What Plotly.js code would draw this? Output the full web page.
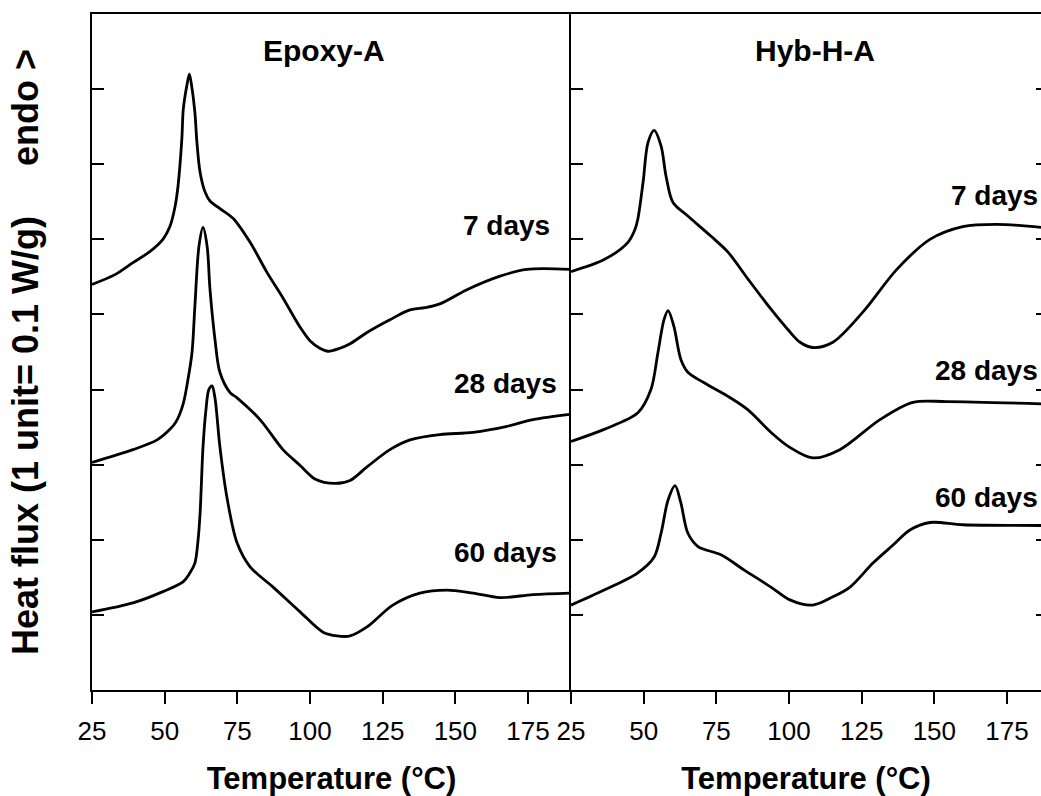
<!DOCTYPE html>
<html>
<head>
<meta charset="utf-8">
<script src="https://cdn.plot.ly/plotly-3.0.1.min.js"></script>
<style>html,body{margin:0;padding:0;background:#fff;}#chart{width:1041px;height:796px;}</style>
</head>
<body>
<div id="chart"></div>
<script>
// ---- Data ----
var panelTitles = ["Epoxy-A", "Hyb-H-A"];
var seriesNames = ["7 days", "28 days", "60 days"];
var xTickVals = [25, 50, 75, 100, 125, 150, 175];
var xTickText = ["25", "50", "75", "100", "125", "150", "175"];
var yTickVals = [1, 2, 3, 4, 5, 6, 7, 8];

// Epoxy-A, 7 days
var tEpoxy7 = [25.0, 32.9, 39.1, 45.0, 49.4, 51.8, 53.6, 54.6, 55.9, 56.4, 57.6, 58.5, 59.3, 60.4, 61.1, 62.2, 63.9, 65.6, 69.0, 73.5, 79.4, 85.2, 90.7, 96.6, 100.0, 103.4, 106.2, 110.3, 113.8, 119.6, 127.5, 134.4, 139.6, 144.7, 154.0, 165.4, 174.6, 189.4];
var hEpoxy7 = [5.40, 5.53, 5.69, 5.84, 6.00, 6.17, 6.44, 6.71, 7.33, 7.73, 8.04, 8.20, 8.04, 7.69, 7.29, 6.89, 6.63, 6.51, 6.41, 6.28, 5.96, 5.56, 5.22, 4.83, 4.65, 4.55, 4.51, 4.55, 4.61, 4.76, 4.93, 5.06, 5.09, 5.14, 5.33, 5.51, 5.60, 5.60];
// Epoxy-A, 28 days
var tEpoxy28 = [25.0, 39.1, 47.4, 51.8, 53.9, 56.3, 58.0, 59.4, 60.4, 61.8, 63.2, 64.6, 65.6, 67.3, 69.0, 72.5, 74.9, 82.8, 90.7, 96.6, 101.7, 108.6, 113.8, 119.6, 127.5, 134.4, 144.7, 156.1, 167.8, 176.7, 189.4];
var hEpoxy28 = [3.03, 3.20, 3.33, 3.47, 3.57, 3.80, 4.13, 4.49, 5.11, 5.91, 6.16, 5.91, 5.33, 4.67, 4.23, 3.96, 3.89, 3.60, 3.20, 2.99, 2.81, 2.75, 2.79, 2.97, 3.20, 3.33, 3.40, 3.43, 3.51, 3.60, 3.67];
// Epoxy-A, 60 days
var tEpoxy60 = [25.0, 39.1, 49.4, 56.3, 58.7, 60.4, 61.5, 62.2, 63.2, 64.2, 65.2, 66.3, 67.3, 69.0, 71.4, 74.9, 79.4, 87.3, 96.6, 104.5, 109.3, 113.8, 119.6, 128.5, 137.8, 147.1, 156.1, 165.4, 176.7, 189.4];
var hEpoxy60 = [1.04, 1.16, 1.31, 1.44, 1.56, 1.69, 2.00, 2.36, 3.24, 3.73, 4.00, 4.05, 3.89, 3.24, 2.57, 1.96, 1.64, 1.37, 1.04, 0.77, 0.72, 0.72, 0.84, 1.13, 1.29, 1.33, 1.29, 1.23, 1.27, 1.29];

// Hyb-H-A, 7 days
var tHyb7 = [25.0, 36.4, 44.6, 47.0, 48.0, 49.8, 51.5, 53.6, 56.0, 57.7, 60.1, 65.2, 73.2, 79.0, 85.9, 93.8, 99.6, 103.8, 108.2, 115.1, 125.4, 137.1, 148.5, 159.8, 171.5, 186.7];
var hHyb7 = [5.57, 5.73, 5.96, 6.13, 6.27, 6.76, 7.29, 7.45, 7.24, 6.84, 6.49, 6.31, 6.04, 5.83, 5.47, 5.07, 4.80, 4.63, 4.56, 4.63, 5.03, 5.60, 6.00, 6.17, 6.20, 6.16];
// Hyb-H-A, 28 days
var tHyb28 = [25.0, 36.4, 48.0, 52.5, 54.9, 57.0, 58.4, 60.4, 62.8, 65.2, 70.8, 79.0, 85.9, 93.8, 100.3, 108.2, 117.5, 131.3, 142.6, 154.3, 186.7];
var hHyb28 = [3.31, 3.47, 3.69, 4.00, 4.49, 4.93, 5.05, 4.84, 4.40, 4.23, 4.09, 3.91, 3.73, 3.43, 3.23, 3.09, 3.20, 3.60, 3.83, 3.84, 3.81];
// Hyb-H-A, 60 days
var tHyb60 = [25.0, 36.4, 48.0, 53.6, 56.0, 58.4, 60.8, 62.8, 65.2, 68.7, 76.6, 84.5, 93.8, 100.3, 108.2, 115.1, 121.0, 128.9, 135.8, 141.6, 148.5, 159.8, 186.7];
var hHyb60 = [1.13, 1.33, 1.56, 1.77, 2.09, 2.53, 2.72, 2.49, 2.09, 1.91, 1.80, 1.60, 1.37, 1.20, 1.13, 1.24, 1.37, 1.69, 1.93, 2.13, 2.23, 2.20, 2.19];

// Label positions (temperature, heat flux) for the curve labels
var labelT = [[167.6, 167.1, 167.2], [186.3, 186.3, 186.3]];
var labelH = [[6.19, 4.08, 1.83], [6.59, 4.25, 2.56]];

// ---- Traces ----
var lineStyle = {color: "#000000", width: 2.8, shape: "spline", smoothing: 0.9};
function curve(t, h, xa, ya, name) {
  return {x: t, y: h, xaxis: xa, yaxis: ya, type: "scatter", mode: "lines",
          line: lineStyle, name: name, showlegend: false, hoverinfo: "x+y"};
}
var data = [
  curve(tEpoxy7, hEpoxy7, "x", "y", panelTitles[0] + " " + seriesNames[0]),
  curve(tEpoxy28, hEpoxy28, "x", "y", panelTitles[0] + " " + seriesNames[1]),
  curve(tEpoxy60, hEpoxy60, "x", "y", panelTitles[0] + " " + seriesNames[2]),
  curve(tHyb7, hHyb7, "x2", "y2", panelTitles[1] + " " + seriesNames[0]),
  curve(tHyb28, hHyb28, "x2", "y2", panelTitles[1] + " " + seriesNames[1]),
  curve(tHyb60, hHyb60, "x2", "y2", panelTitles[1] + " " + seriesNames[2]),
  {x: [], y: [], xaxis: "x2", yaxis: "y3", type: "scatter", mode: "lines", showlegend: false, hoverinfo: "skip"}
];

var FONT = "Liberation Sans, Arial, Helvetica, sans-serif";
var split = 479 / 949;

function xAxis(domain, range, anchor) {
  return {
    domain: domain, range: range, anchor: anchor,
    tickmode: "array", tickvals: xTickVals, ticktext: xTickText,
    ticks: "outside", ticklen: 12, tickwidth: 2, tickcolor: "#000",
    ticklabelstandoff: 5,
    showline: true, linewidth: 2, linecolor: "#000", mirror: true,
    showgrid: false, zeroline: false,
    tickfont: {family: FONT, size: 26, color: "#000"},
    title: {text: "Temperature (°C)", standoff: 32,
            font: {family: FONT, size: 31, color: "#000", weight: "bold"}}
  };
}

var labelFont = {family: FONT, size: 28, color: "#000", weight: "bold"};
var annotations = [
  {text: panelTitles[0], xref: "x", yref: "y", x: 104.8, y: 8.52, showarrow: false,
   xanchor: "center", yanchor: "middle", font: {family: FONT, size: 30, color: "#000", weight: "bold"}},
  {text: panelTitles[1], xref: "x2", yref: "y2", x: 108.9, y: 8.52, showarrow: false,
   xanchor: "center", yanchor: "middle", font: {family: FONT, size: 30, color: "#000", weight: "bold"}}
];
for (var p = 0; p < 2; p++) {
  for (var s = 0; s < 3; s++) {
    annotations.push({text: seriesNames[s], xref: p === 0 ? "x" : "x2", yref: p === 0 ? "y" : "y2",
      x: labelT[p][s], y: labelH[p][s], showarrow: false,
      xanchor: p === 0 ? "center" : "right", yanchor: "middle", font: labelFont});
  }
}

var layout = {
  width: 1041, height: 796,
  margin: {l: 92, r: 0, t: 14, b: 106},
  paper_bgcolor: "#ffffff", plot_bgcolor: "#ffffff",
  showlegend: false,
  xaxis: xAxis([0, split], [25, 189.8], "y"),
  xaxis2: xAxis([split, 1], [25, 186.7], "y2"),
  yaxis: {
    domain: [0, 1], range: [0, 9], anchor: "x",
    tickmode: "array", tickvals: yTickVals,
    ticks: "inside", ticklen: 12, tickwidth: 2, tickcolor: "#000",
    showticklabels: false,
    showline: true, linewidth: 2, linecolor: "#000", mirror: false,
    showgrid: false, zeroline: false,
    title: {text: "Heat flux (1 unit= 0.1 W/g)\u00a0\u00a0\u00a0\u00a0\u00a0endo >", standoff: 40,
            font: {family: FONT, size: 36, color: "#000", weight: "bold"}}
  },
  yaxis2: {
    domain: [0, 1], range: [0, 9], anchor: "x2",
    tickmode: "array", tickvals: yTickVals,
    ticks: "inside", ticklen: 12, tickwidth: 2, tickcolor: "#000",
    showticklabels: false,
    showline: true, linewidth: 2, linecolor: "#000", mirror: false,
    showgrid: false, zeroline: false
  },
  yaxis3: {
    overlaying: "y2", side: "right", anchor: "x2", range: [0, 9],
    tickmode: "array", tickvals: yTickVals,
    ticks: "inside", ticklen: 5, tickwidth: 2, tickcolor: "#000",
    showticklabels: false, showline: false, showgrid: false, zeroline: false
  },
  annotations: annotations
};

Plotly.newPlot("chart", data, layout, {staticPlot: true, displayModeBar: false});
</script>
</body>
</html>
